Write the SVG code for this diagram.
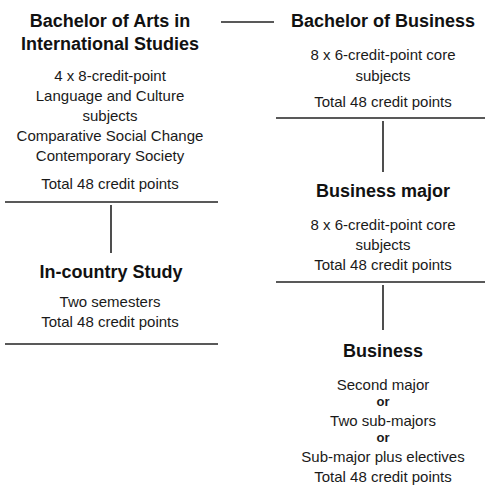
<svg xmlns="http://www.w3.org/2000/svg" width="485" height="489" viewBox="0 0 485 489">
<style>
.h{font-family:"Liberation Sans",Arial,sans-serif;font-weight:bold;font-size:18px;fill:#111;text-anchor:middle}
.b{font-family:"Liberation Sans",Arial,sans-serif;font-size:15px;fill:#1a1a1a;text-anchor:middle}
.o{font-family:"Liberation Sans",Arial,sans-serif;font-weight:bold;font-size:13px;fill:#1a1a1a;text-anchor:middle}
.rule{stroke:#222;stroke-width:1.4}
.c{stroke:#222;stroke-width:1.6}
</style>
<rect width="485" height="489" fill="#fff"/>
<g id="ba-arts">
<text class="h" x="110" y="27">Bachelor of Arts in</text>
<text class="h" x="110" y="50">International Studies</text>
<text class="b" x="110" y="81">4 x 8-credit-point</text>
<text class="b" x="110" y="101">Language and Culture</text>
<text class="b" x="110" y="121">subjects</text>
<text class="b" x="110" y="141">Comparative Social Change</text>
<text class="b" x="110" y="161">Contemporary Society</text>
<text class="b" x="110" y="189">Total 48 credit points</text>
<line class="rule" x1="5" y1="202" x2="218" y2="202"/>
</g>
<g id="in-country">
<text class="h" x="111" y="278">In-country Study</text>
<text class="b" x="110" y="307">Two semesters</text>
<text class="b" x="110" y="327">Total 48 credit points</text>
<line class="rule" x1="5" y1="344" x2="218" y2="344"/>
</g>
<g id="bbus">
<text class="h" x="383" y="27">Bachelor of Business</text>
<text class="b" x="383" y="60">8 x 6-credit-point core</text>
<text class="b" x="383" y="81">subjects</text>
<text class="b" x="383" y="107">Total 48 credit points</text>
<line class="rule" x1="276" y1="118" x2="485" y2="118"/>
</g>
<g id="bus-major">
<text class="h" x="383" y="197">Business major</text>
<text class="b" x="383" y="230">8 x 6-credit-point core</text>
<text class="b" x="383" y="250">subjects</text>
<text class="b" x="383" y="270">Total 48 credit points</text>
<line class="rule" x1="276" y1="282" x2="485" y2="282"/>
</g>
<g id="business">
<text class="h" x="383" y="357">Business</text>
<text class="b" x="383" y="390">Second major</text>
<text class="o" x="383" y="406">or</text>
<text class="b" x="383" y="426">Two sub-majors</text>
<text class="o" x="383" y="442">or</text>
<text class="b" x="383" y="462">Sub-major plus electives</text>
<text class="b" x="383" y="482">Total 48 credit points</text>
</g>
<g id="connectors">
<line class="c" x1="221" y1="22" x2="274" y2="22"/>
<line class="c" x1="111" y1="205" x2="111" y2="253"/>
<line class="c" x1="383" y1="121" x2="383" y2="172"/>
<line class="c" x1="383" y1="285" x2="383" y2="330"/>
</g>
</svg>
